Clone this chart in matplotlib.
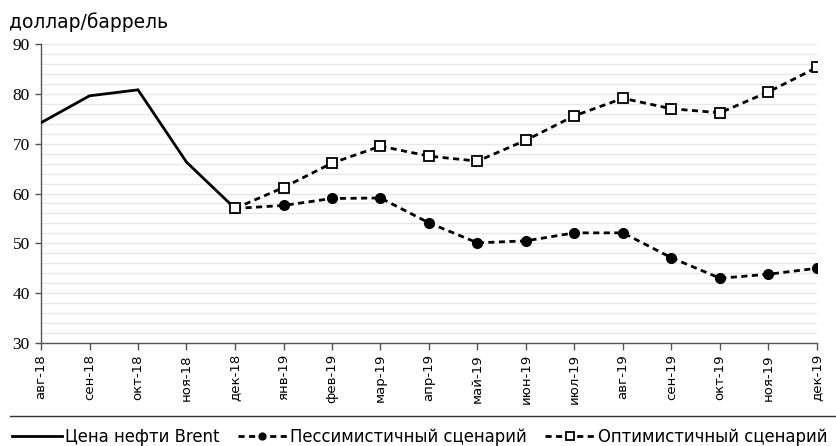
import matplotlib
matplotlib.use("Agg")
import matplotlib.pyplot as plt
from matplotlib.lines import Line2D
import numpy as np

plt.rcParams['font.family'] = ['DejaVu Sans']

months = ['авг-18', 'сен-18', 'окт-18', 'ноя-18', 'дек-18', 'янв-19', 'фев-19',
          'мар-19', 'апр-19', 'май-19', 'июн-19', 'июл-19', 'авг-19', 'сен-19',
          'окт-19', 'ноя-19', 'дек-19']

# Brent actual: авг-18 .. дек-18
brent = [74.2, 79.6, 80.8, 66.3, 57.0]
# scenarios: дек-18 .. дек-19
pessimistic = [57.0, 57.6, 59.0, 59.1, 54.1, 50.1, 50.5, 52.1, 52.1, 47.1, 43.0, 43.8, 45.0]
optimistic = [57.0, 61.2, 66.1, 69.5, 67.5, 66.5, 70.7, 75.6, 79.1, 77.0, 76.2, 80.4, 85.3]

label_brent = 'Цена нефти Brent'
label_pess = 'Пессимистичный сценарий'
label_opt = 'Оптимистичный сценарий'

x = np.arange(len(months))
x_brent = x[:len(brent)]
x_scen = x[len(brent) - 1:]

fig = plt.figure(figsize=(8.36, 4.46), dpi=100)
ax = fig.add_axes([41 / 836, 1 - 343 / 446, (817 - 41) / 836, (343 - 44) / 446])

ax.plot(x_brent, brent, color='black', lw=2.0, solid_joinstyle='miter', zorder=3,
        label=label_brent)
ax.plot(x_scen, pessimistic, color='black', lw=2.0, ls=(0, (2.2, 1.6)), marker='o',
        ms=7, mfc='black', mec='black', zorder=4, label=label_pess)
ax.plot(x_scen, optimistic, color='black', lw=2.0, ls=(0, (2.2, 1.6)), marker='s',
        ms=7.5, mfc='white', mec='black', mew=1.3, zorder=4, label=label_opt)

ax.set_xlim(0, len(months) - 1)
ax.set_ylim(30, 90)
ax.set_yticks(np.arange(30, 91, 10))
ax.set_yticks(np.arange(30, 91, 2), minor=True)
ax.grid(True, which='both', axis='y', color='#e8e8e8', lw=1.0, zorder=0)
ax.set_axisbelow(True)

ax.set_xticks(x)
ax.set_xticklabels(months, rotation=90, fontsize=9.5)
ax.tick_params(axis='x', direction='out', length=5, width=1, color='#555555', pad=3)
ax.tick_params(axis='y', which='major', direction='out', length=4, width=1,
               color='#555555', pad=4)
ax.tick_params(axis='y', which='minor', length=0)
for t in ax.get_yticklabels():
    t.set_fontfamily('Liberation Serif')
    t.set_fontsize(12.5)

for s in ['top', 'right']:
    ax.spines[s].set_visible(False)
for s in ['left', 'bottom']:
    ax.spines[s].set_color('#555555')
    ax.spines[s].set_linewidth(1.0)

fig.text(9 / 836, 1 - 22 / 446, 'доллар/баррель', fontsize=13.5, va='center', ha='left')

# separator line above legend
fig.add_artist(Line2D([10 / 836, 1.0], [1 - 416 / 446, 1 - 416 / 446],
                      color='#333333', lw=1.0, transform=fig.transFigure))

leg = fig.legend(loc='center left', bbox_to_anchor=(12 / 836, 1 - 437 / 446), ncol=3,
                 frameon=False, fontsize=11.9, handlelength=3.0, handletextpad=0.2,
                 columnspacing=1.1, markerscale=0.7, borderaxespad=0, borderpad=0)

fig.savefig('out.png', dpi=100)
